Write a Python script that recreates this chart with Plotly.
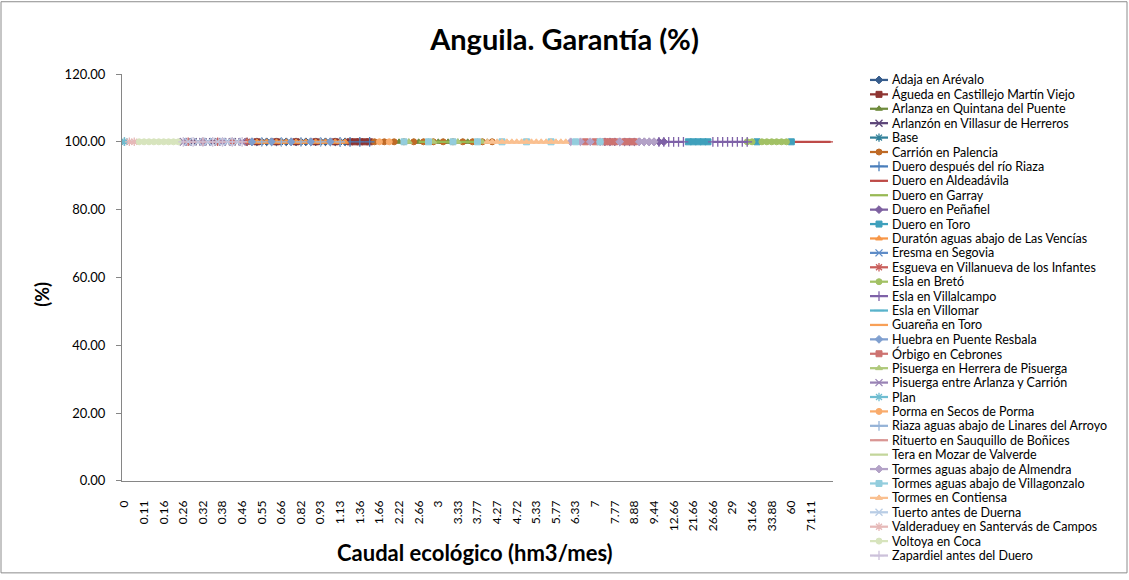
import plotly.graph_objects as go

# ---------------- data ----------------
CATEGORIES = [
    "0", "0.02", "0.05", "0.08", "0.11", "0.12", "0.13", "0.15",
    "0.16", "0.18", "0.2", "0.22", "0.26", "0.27", "0.28", "0.3",
    "0.32", "0.33", "0.35", "0.36", "0.38", "0.4", "0.42", "0.44",
    "0.46", "0.48", "0.5", "0.52", "0.55", "0.58", "0.6", "0.63",
    "0.66", "0.7", "0.74", "0.77", "0.82", "0.85", "0.88", "0.9",
    "0.93", "0.98", "1.04", "1.08", "1.13", "1.18", "1.24", "1.3",
    "1.36", "1.44", "1.52", "1.6", "1.66", "1.77", "1.94", "2.1",
    "2.22", "2.33", "2.44", "2.55", "2.66", "2.77", "2.83", "2.88",
    "3", "3.1", "3.16", "3.22", "3.33", "3.44", "3.55", "3.66",
    "3.77", "3.88", "4", "4.11", "4.27", "4.33", "4.44", "4.55",
    "4.72", "4.88", "5", "5.16", "5.33", "5.44", "5.55", "5.66",
    "5.77", "5.88", "6", "6.16", "6.33", "6.5", "6.66", "6.88",
    "7", "7.16", "7.33", "7.55", "7.77", "8", "8.33", "8.66",
    "8.88", "9", "9.16", "9.33", "9.44", "10", "10.66", "11.66",
    "12.66", "14", "16", "18.66", "21.66", "23.33", "24", "25.33",
    "26.66", "27", "28", "28.33", "29", "30", "30.33", "31",
    "31.66", "32", "33", "33.33", "33.88", "40", "45", "53.33",
    "60", "63.33", "66.66", "68", "71.11", "77.77", "80", "85.55", "88.88",
]

X_TICK_LABELS = [
    "0", "0.11", "0.16", "0.26", "0.32", "0.38", "0.46", "0.55", "0.66",
    "0.82", "0.93", "1.13", "1.36", "1.66", "2.22", "2.66", "3", "3.33",
    "3.77", "4.27", "4.72", "5.33", "5.77", "6.33", "7", "7.77", "8.88",
    "9.44", "12.66", "21.66", "26.66", "29", "31.66", "33.88", "60", "71.11",
]

Y_TICKS = [0, 20, 40, 60, 80, 100, 120]

GARANTIA = 100.0  # every series sits at 100 %

# flows (hm3/mes) at which each series has a value
ADAJA = ["0.48", "0.5", "0.52", "0.55", "0.58", "0.6", "0.63", "0.66", "0.7", "0.74", "0.77",
         "0.82", "0.85", "0.88", "0.9", "0.93", "0.98", "1.04", "1.08", "1.13", "1.18"]
AGUEDA = ["0.52", "0.63", "0.77", "0.9", "1.08", "1.24", "1.3", "1.36", "1.44", "1.52"]
ARLANZA = ["2.22", "2.33", "2.44", "2.55", "2.66", "2.77", "2.83", "2.88", "3", "3.1",
           "3.16", "3.22", "3.33", "3.44", "3.55", "3.66", "3.77", "3.88", "4", "4.11"]
ARLANZON = ["0.26", "0.27", "0.28", "0.3", "0.32", "0.33", "0.35", "0.36", "0.38", "0.4",
            "0.42", "0.44", "0.46"]
BASE = ["0"]
CARRION = ["1.6", "1.77", "2.1", "2.33", "2.55", "2.77", "2.88", "3.1", "3.22", "3.44",
           "3.66", "3.88", "4.11"]
DUERO_RIAZA = ["1.13", "1.24", "1.36", "1.52"]
DUERO_ALDEADAVILA = ["40", "45", "53.33", "60", "63.33", "66.66", "68", "71.11", "77.77",
                     "80", "85.55", "88.88"]
DUERO_GARRAY = ["2.66", "2.77", "2.83", "2.88", "3", "3.1", "3.16", "3.22", "3.33", "3.44",
                "3.55", "3.66", "3.77"]
DUERO_PENAFIEL = ["7.33", "7.55", "7.77", "8", "8.33", "8.66", "8.88", "9", "9.16", "9.33",
                  "9.44", "10", "10.66"]
DUERO_TORO = ["18.66", "21.66", "23.33", "24", "25.33", "32", "60"]
DURATON = ["0.48", "0.5", "0.52", "0.55", "0.58", "0.6", "0.63", "0.66", "0.7", "0.74", "0.77",
           "0.82", "0.85", "0.88", "0.9", "0.93", "0.98", "1.04", "1.08", "1.13", "1.18"]
ERESMA = ["0.27", "0.33", "0.4"]
ESGUEVA = ["0.27", "0.32", "0.36", "0.42", "0.48"]
ESLA_BRETO = ["31", "31.66", "33", "33.33", "33.88", "40", "45", "53.33"]
ESLA_VILLALCAMPO = ["10", "10.66", "11.66", "12.66", "14", "16", "26.66", "27", "28",
                    "28.33", "29", "30", "30.33", "31"]
ESLA_VILLOMAR = ["0", "0.02", "0.05", "0.08", "0.11", "0.12", "0.13", "0.15", "0.16",
                 "0.18", "0.2", "0.22"]
GUARENA = ["0.48", "0.5", "0.52", "0.55", "0.58", "0.6", "0.63", "0.66", "0.7", "0.74", "0.77",
           "0.82", "0.85", "0.88", "0.9", "0.93", "0.98", "1.04", "1.08", "1.13", "1.18"]
HUEBRA = ["0.5", "0.6", "0.74", "0.88", "1.04"]
ORBIGO = ["6.66", "7", "7.33", "7.55", "7.77", "8.33", "8.66", "8.88"]
PISUERGA_HERRERA = ["2.44", "2.88", "3.33", "3.88"]
PISUERGA_AC = ["0.26", "0.32", "0.38", "0.46"]
PLAN = ["0"]
PORMA = ["1.66", "1.94"]
RIAZA = ["0.55", "0.66", "0.82", "0.93", "1.13"]
RITUERTO = ["0.26", "0.27", "0.28", "0.3", "0.32", "0.33", "0.35", "0.36", "0.38", "0.4",
            "0.42", "0.44", "0.46"]
TERA = ["0.08", "0.11", "0.12", "0.13", "0.15", "0.16", "0.18", "0.2", "0.22"]
TORMES_ALMENDRA = ["6.16", "6.5", "6.88", "7.16", "8", "9", "9.16", "9.33", "9.44"]
TORMES_VILLAGONZALO = ["2.33", "2.83", "3.22", "3.77", "4.33", "5", "5.66", "6.33", "7.16"]
TORMES_CONTIENSA = ["4", "4.11", "4.27", "4.33", "4.44", "4.55", "4.72", "4.88", "5", "5.16",
                    "5.33", "5.44", "5.55", "5.66", "5.77", "5.88", "6"]
TUERTO = ["0.27", "0.3", "0.33", "0.36", "0.4", "0.44"]
VALDERADUEY = ["0.02", "0.05"]
VOLTOYA = ["0.08", "0.11", "0.12", "0.13", "0.15", "0.16", "0.18", "0.2", "0.22"]
ZAPARDIEL = ["0.26", "0.28", "0.32", "0.35", "0.38", "0.42", "0.46"]

SERIES_NAMES = [
    "Adaja en Arévalo", "Águeda en Castillejo Martín Viejo", "Arlanza en Quintana del Puente",
    "Arlanzón en Villasur de Herreros", "Base", "Carrión en Palencia",
    "Duero después del río Riaza", "Duero en Aldeadávila", "Duero en Garray",
    "Duero en Peñafiel", "Duero en Toro", "Duratón aguas abajo de Las Vencías",
    "Eresma en Segovia", "Esgueva en Villanueva de los Infantes", "Esla en Bretó",
    "Esla en Villalcampo", "Esla en Villomar", "Guareña en Toro",
    "Huebra en Puente Resbala", "Órbigo en Cebrones", "Pisuerga en Herrera de Pisuerga",
    "Pisuerga entre Arlanza y Carrión", "Plan", "Porma en Secos de Porma",
    "Riaza aguas abajo de Linares del Arroyo", "Rituerto en Sauquillo de Boñices",
    "Tera en Mozar de Valverde", "Tormes aguas abajo de Almendra",
    "Tormes aguas abajo de Villagonzalo", "Tormes en Contiensa", "Tuerto antes de Duerna",
    "Valderaduey en Santervás de Campos", "Voltoya en Coca", "Zapardiel antes del Duero",
]
SERIES_FLOWS = [
    ADAJA, AGUEDA, ARLANZA, ARLANZON, BASE, CARRION,
    DUERO_RIAZA, DUERO_ALDEADAVILA, DUERO_GARRAY, DUERO_PENAFIEL, DUERO_TORO, DURATON,
    ERESMA, ESGUEVA, ESLA_BRETO, ESLA_VILLALCAMPO, ESLA_VILLOMAR, GUARENA,
    HUEBRA, ORBIGO, PISUERGA_HERRERA, PISUERGA_AC, PLAN, PORMA,
    RIAZA, RITUERTO, TERA, TORMES_ALMENDRA, TORMES_VILLAGONZALO, TORMES_CONTIENSA,
    TUERTO, VALDERADUEY, VOLTOYA, ZAPARDIEL,
]

# ---------------- styles ----------------
SERIES_COLORS = [
    "#375D8D", "#8E3532", "#6F8B3C", "#5B4478", "#318099", "#BF6A26",
    "#4A7EBB", "#BE4B48", "#98B954", "#7D60A0", "#3FA0BC", "#F79646",
    "#5E8CC7", "#C95E5B", "#A2C164", "#7F62A8", "#59B3CB", "#F8A057",
    "#7F9FCF", "#CD7371", "#AFC97A", "#9983B5", "#6FBDD1", "#F9AB6B",
    "#95B3D7", "#D99694", "#C3D69B", "#B3A2C7", "#93CDDD", "#FAC090",
    "#B9CDE5", "#E6B9B8", "#D7E4BD", "#CCC1DA",
]
SYMBOL_CYCLE = ["diamond", "square", "triangle-up", "x-thin", "asterisk", "circle",
                "cross-thin", "line-ew", None]
THIN = {"x-thin", "asterisk", "cross-thin", "line-ew"}

FONT = "Lato, 'Open Sans', sans-serif"
W, H = 1129, 580
ML, MR, MT, MB = 122, 19, 74, 15
PW, PH = W - ML - MR, H - MT - MB


def px(x):
    return (x - ML) / PW


def py(y):
    return (H - MB - y) / PH


fig = go.Figure()

for i, (name, flows) in enumerate(zip(SERIES_NAMES, SERIES_FLOWS)):
    color = SERIES_COLORS[i]
    sym = SYMBOL_CYCLE[i % len(SYMBOL_CYCLE)]
    present = set(flows)
    y = [GARANTIA if c in present else None for c in CATEGORIES]
    trace = dict(x=CATEGORIES, y=y, name=name, showlegend=False,
                 connectgaps=False, line=dict(color=color, width=2.25),
                 xaxis="x", yaxis="y", hoverinfo="skip")
    if sym is None:
        trace["mode"] = "lines"
    else:
        trace["mode"] = "lines+markers"
        trace["marker"] = dict(symbol=sym, size=7 if sym in THIN else 6, color=color,
                               line=dict(color=color, width=1.3 if sym in THIN else 1))
    fig.add_trace(go.Scatter(**trace))

    # custom legend sample
    fig.add_trace(go.Scatter(x=[0, 1], y=[i, i], mode="lines", showlegend=False,
                             line=dict(color=color, width=2.25), xaxis="x2", yaxis="y2",
                             hoverinfo="skip"))
    if sym is not None:
        fig.add_trace(go.Scatter(x=[0.5], y=[i], mode="markers", showlegend=False,
                                 marker=dict(symbol=sym, size=7 if sym in THIN else 6,
                                             color=color,
                                             line=dict(color=color,
                                                       width=1.3 if sym in THIN else 1)),
                                 xaxis="x2", yaxis="y2", hoverinfo="skip"))
    fig.add_annotation(x=px(890), y=i, xref="paper", yref="y2", text=name,
                       showarrow=False, xanchor="left", yanchor="middle",
                       font=dict(family=FONT, size=12.5, color="#000000"))

legend_top = -6 / 14.56
legend_bottom = legend_top + PH / 14.56

fig.update_layout(
    width=W, height=H,
    margin=dict(l=ML, r=MR, t=MT, b=MB),
    paper_bgcolor="white", plot_bgcolor="white",
    font=dict(family=FONT, color="#000000"),
    title=dict(text="<b>Anguila. Garantía (%)</b>", x=0.5, xref="container",
               y=1 - 40 / H, yref="container", xanchor="center", yanchor="middle",
               font=dict(family=FONT, size=29, color="#000000")),
    xaxis=dict(type="category", categoryorder="array", categoryarray=CATEGORIES,
               range=[-0.5, len(CATEGORIES) - 0.5], domain=[0, px(833)], anchor="y",
               tickmode="array", tickvals=X_TICK_LABELS, ticktext=X_TICK_LABELS,
               tickangle=-90, ticks="", ticklabelstandoff=14,
               tickfont=dict(family=FONT, size=12, color="#000000"),
               showline=True, linecolor="#868686", linewidth=1, showgrid=False,
               zeroline=False, fixedrange=True),
    yaxis=dict(range=[0, 120], domain=[py(485), 1], anchor="x",
               tickmode="array", tickvals=Y_TICKS,
               ticktext=[f"{v:.2f}" for v in Y_TICKS],
               ticks="outside", ticklen=5, tickcolor="#868686",
               ticklabelstandoff=8,
               tickfont=dict(family=FONT, size=13, color="#000000"),
               showline=True, linecolor="#868686", linewidth=1, showgrid=False,
               zeroline=False, fixedrange=True),
    xaxis2=dict(domain=[px(870), px(888)], range=[0, 1], anchor="y2", visible=False,
                fixedrange=True),
    yaxis2=dict(domain=[0, 1], range=[legend_bottom, legend_top], anchor="x2",
                visible=False, fixedrange=True),
)

fig.add_annotation(x=px(42), y=py(297), xref="paper", yref="paper", text="<b>(%)</b>",
                   textangle=-90, showarrow=False, xanchor="center", yanchor="middle",
                   font=dict(family=FONT, size=18, color="#000000"))
fig.add_annotation(x=px(475), y=py(557), xref="paper", yref="paper",
                   text="<b>Caudal ecológico (hm3/mes)</b>", showarrow=False,
                   xanchor="center", yanchor="middle",
                   font=dict(family=FONT, size=22, color="#000000"))

# outer chart border
fig.add_shape(type="rect", xref="paper", yref="paper",
              x0=px(1), x1=px(W - 2), y0=py(H - 2), y1=py(1),
              line=dict(color="#8C8C8C", width=1), fillcolor="rgba(0,0,0,0)",
              layer="below")

fig.write_html("out.html", config={"displayModeBar": False},
               post_script="document.body.style.margin='0';"
                           "document.body.style.overflow='hidden';")
